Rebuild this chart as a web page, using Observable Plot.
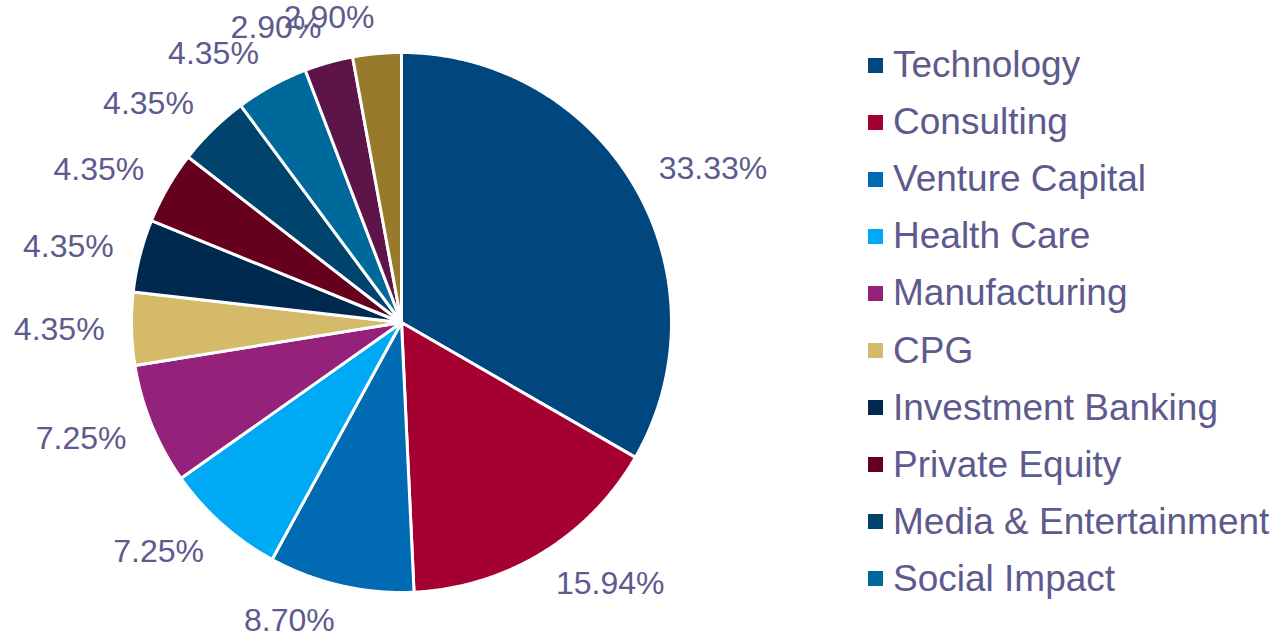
<!DOCTYPE html>
<html>
<head>
<meta charset="utf-8">
<script src="https://cdn.jsdelivr.net/npm/d3@7"></script>
<script src="https://cdn.jsdelivr.net/npm/@observablehq/plot@0.6"></script>
<style>
  html, body { margin: 0; padding: 0; background: #fff; }
  #wrap { position: relative; width: 1280px; height: 636px; font-family: "Liberation Sans", Arial, sans-serif; }
  #chart { position: absolute; left: 0; top: 0; }
  #legend { position: absolute; left: 868px; top: 36.5px; }
  .item { height: 57.1px; display: flex; align-items: center; font-size: 37px; color: #5e5a8e; white-space: nowrap; }
  .sw { width: 15px; height: 15px; margin-right: 10px; flex: none; }
</style>
</head>
<body>
<div id="wrap"><div id="chart"></div><div id="legend"></div></div>
<script>
// Data (clockwise from 12 o'clock)
const categories = ["Technology", "Consulting", "Venture Capital", "Health Care", "Manufacturing", "CPG",
  "Investment Banking", "Private Equity", "Media & Entertainment", "Social Impact", "Category 11", "Category 12"];
const shares = [33.33, 15.94, 8.70, 7.25, 7.25, 4.35, 4.35, 4.35, 4.35, 4.35, 2.90, 2.90];
const legendCount = 10; // legend in the reference lists the first ten categories

// Styles
const palette = ["#00467f", "#a50032", "#006bb3", "#00a9f4", "#94227a", "#d5ba6a",
  "#00294f", "#65001f", "#00436c", "#00699b", "#5d1549", "#987a2c"];
const textColor = "#5e5a8e";

// Build slice polygons in unit-circle coordinates
const total = d3.sum(shares);
let acc = 0;
const slices = categories.map((c, i) => {
  const a0 = acc / total * 2 * Math.PI;
  acc += shares[i];
  const a1 = acc / total * 2 * Math.PI;
  return {c, v: shares[i], a0, a1};
});
const pts = [];
for (const s of slices) {
  pts.push({c: s.c, x: 0, y: 0});
  const n = Math.max(2, Math.ceil((s.a1 - s.a0) / 0.005));
  for (let k = 0; k <= n; k++) {
    const a = s.a0 + (s.a1 - s.a0) * k / n;
    pts.push({c: s.c, x: Math.sin(a), y: Math.cos(a)});
  }
  pts.push({c: s.c, x: 0, y: 0});
}
const labels = slices.map(s => {
  const m = (s.a0 + s.a1) / 2;
  return {c: s.c, text: s.v.toFixed(2) + "%", x: 1.1 * Math.sin(m), y: 1.135 * Math.cos(m), side: Math.sin(m)};
});

const W = 860, H = 636, R = 270, CX = 401, CY = 322;
const chart = Plot.plot({
  width: W, height: H, margin: 0,
  style: {fontFamily: '"Liberation Sans", Arial, sans-serif', overflow: "visible", background: "transparent"},
  x: {axis: null, domain: [-CX / R, (W - CX) / R]},
  y: {axis: null, domain: [-(H - CY) / R, CY / R]},
  color: {domain: categories, range: palette},
  marks: [
    Plot.line(pts, {x: "x", y: "y", z: "c", fill: "c", stroke: "white", strokeWidth: 3, strokeLinejoin: "round"}),
    Plot.text(labels.filter(d => d.side >= 0), {x: "x", y: "y", text: "text", textAnchor: "start", fill: textColor, fontSize: 32}),
    Plot.text(labels.filter(d => d.side < 0), {x: "x", y: "y", text: "text", textAnchor: "end", fill: textColor, fontSize: 32})
  ]
});
document.getElementById("chart").appendChild(chart);

const legend = document.getElementById("legend");
categories.slice(0, legendCount).forEach((c, i) => {
  const it = document.createElement("div");
  it.className = "item";
  const sw = document.createElement("span");
  sw.className = "sw";
  sw.style.background = palette[i];
  const t = document.createElement("span");
  t.textContent = c;
  it.appendChild(sw); it.appendChild(t);
  legend.appendChild(it);
});
</script>
</body>
</html>
